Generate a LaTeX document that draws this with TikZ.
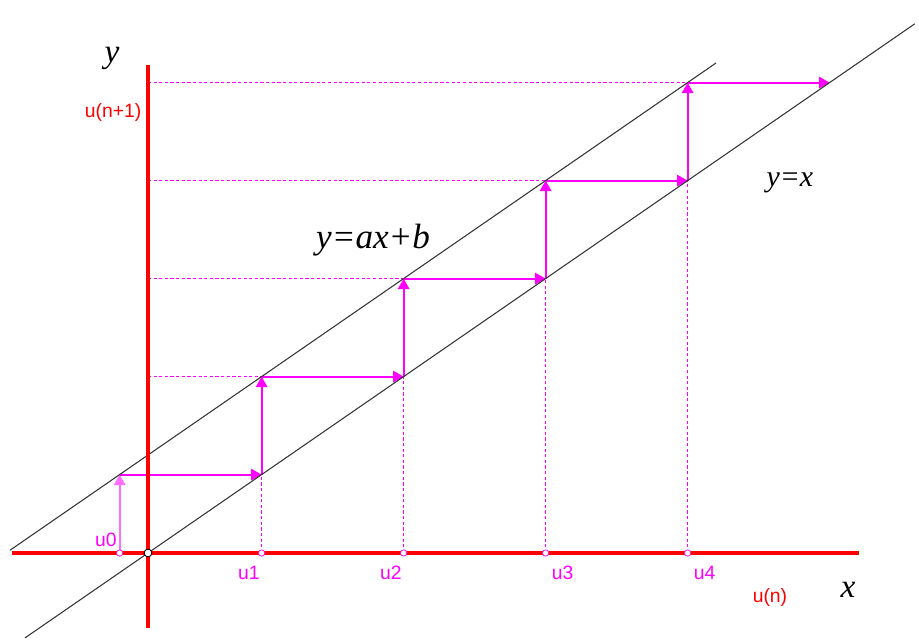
\documentclass[tikz,border=0pt]{standalone}
\usepackage{fontspec}
\setmainfont{Liberation Serif}
\setsansfont{Liberation Sans}
\usetikzlibrary{arrows.meta}
\definecolor{fuchsia}{RGB}{255,0,255}
\definecolor{pinkish}{RGB}{255,110,255}
\definecolor{pureRed}{RGB}{255,0,0}

\begin{document}
\begin{tikzpicture}[
  x=2.84cm, y=1.96cm,
  >={Triangle[length=6pt,width=6.5pt]},
  axis/.style={pureRed,line width=1.9pt},
  graph/.style={black!80,line width=0.6pt},
  guide/.style={fuchsia,line width=1pt,dash pattern=on 1.8pt off 1.4pt},
  stair/.style={->,fuchsia,line width=1.1pt},
  tick/.style={fuchsia,font=\sffamily\fontsize{11}{13}\selectfont},
  axlabel/.style={pureRed,font=\sffamily\fontsize{11}{13}\selectfont},
  mathlabel/.style={font=\itshape\fontsize{19}{22}\selectfont}
]
  \useasboundingbox (-1.0423,-0.898) rectangle (5.4296,5.643);

  % points of the sequence
  \coordinate (O) at (0,0);
  \foreach \k in {0,...,5} {
    \pgfmathsetmacro\u{\k-0.2}
    \coordinate (a\k) at (\u,0);
    \coordinate (d\k) at (\u,\u);
    \coordinate (h\k) at (0,\u);
  }

  % dotted guides
  \foreach \k in {1,...,4}
    \draw[guide] (a\k) -- (d\k);
  \foreach \k [count=\n from 2] in {1,...,4}
    \draw[guide] (h\n) -- (d\k |- h\n);

  % staircase
  \draw[stair,pinkish] (a0) -- (a0 |- h1);
  \draw[stair] (a0 |- h1) -- (d1);
  \foreach \k [count=\n from 2] in {1,...,4} {
    \draw[stair] (d\k) -- (d\k |- h\n);
    \draw[stair] (d\k |- h\n) -- (d\n);
  }

  % the two lines
  \coordinate (f1) at (-0.972,0.028);
  \coordinate (f2) at (4.0,5.0);
  \coordinate (g1) at (-0.866,-0.866);
  \coordinate (g2) at (5.4,5.4);
  \draw[graph] (f1) -- (f2);
  \draw[graph] (g1) -- (g2);

  % axes
  \coordinate (xl) at (-0.958,0);
  \coordinate (xr) at (5.01,0);
  \coordinate (yb) at (0,-0.765);
  \coordinate (yt) at (0,4.98);
  \draw[axis] (xl) -- (xr);
  \draw[axis] (yb) -- (yt);

  \foreach \k in {0,...,4}
    \draw[fuchsia,fill=white,line width=0.4pt] (a\k) circle (1.8pt);
  \draw[black,fill=white,line width=0.5pt] (O) circle (2.2pt);

  % labels
  \node[tick] (t0) at (-0.296,0.133) {u0};
  \node[tick] (t1) at (0.711,-0.204) {u1};
  \node[tick] (t2) at (1.711,-0.204) {u2};
  \node[tick] (t3) at (2.92,-0.204) {u3};
  \node[tick] (t4) at (3.92,-0.204) {u4};
  \node[axlabel] (un1) at (-0.246,4.49) {u(n+1)};
  \node[axlabel] (un) at (4.38,-0.459) {u(n)};
  \node[mathlabel] (ylab) at (-0.254,5.05) {y};
  \node[mathlabel] (xlab) at (4.93,-0.378) {x};
  \node[mathlabel,font=\itshape\fontsize{17}{20}\selectfont] (eqid) at (4.52,3.78) {y=x};
  \node[mathlabel,font=\itshape\fontsize{20}{24}\selectfont] (eqaff) at (1.585,3.19) {y=ax+b};
\end{tikzpicture}
\end{document}
